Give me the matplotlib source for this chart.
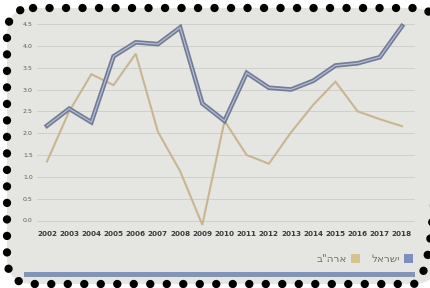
import matplotlib
matplotlib.use("Agg")
import matplotlib.pyplot as plt
import matplotlib.patheffects as pe
from matplotlib.patches import FancyBboxPatch, Rectangle

# ---- data ----
years = [2002, 2003, 2004, 2005, 2006, 2007, 2008, 2009, 2010,
         2011, 2012, 2013, 2014, 2015, 2016, 2017, 2018]
israel = [2.17, 2.56, 2.25, 3.76, 4.08, 4.04, 4.42, 2.68, 2.28,
          3.38, 3.04, 3.00, 3.20, 3.55, 3.60, 3.74, 4.45]
usa = [1.35, 2.50, 3.35, 3.10, 3.82, 2.03, 1.13, -0.10, 2.28,
       1.50, 1.30, 2.02, 2.65, 3.18, 2.50, 2.32, 2.16]
yticks = [0.0, 0.5, 1.0, 1.5, 2.0, 2.5, 3.0, 3.5, 4.0, 4.5]
ytick_labels = ["0.0", "0.5", "1.0", "1.5", "2.0", "2.5", "3.0", "3.5", "4.0", "4.5"]
series_names = ["ישראל", 'ארה"ב']   # logical order (RTL)

W, H = 430, 288
fig = plt.figure(figsize=(W / 100, H / 100), dpi=100)
fig.patch.set_facecolor("white")

# background canvas in pixel coordinates
bg = fig.add_axes([0, 0, 1, 1])
bg.set_xlim(0, W)
bg.set_ylim(H, 0)
bg.axis("off")

box = (7, 8)
bw, bh = 432, 276
paper = FancyBboxPatch(box, bw, bh, boxstyle="round,pad=0,rounding_size=26",
                       facecolor="#e5e6e1", edgecolor="none", zorder=0)
bg.add_patch(paper)
frame = FancyBboxPatch(box, bw, bh, boxstyle="round,pad=0,rounding_size=26",
                       facecolor="none", edgecolor="black", linewidth=6.0,
                       linestyle=(0, (0.01, 1.97)), capstyle="round", zorder=5)
bg.add_patch(frame)
# bottom slate stripe
bg.add_patch(Rectangle((24, 272), 391, 4.5, facecolor="#8494b4", edgecolor="none", zorder=1))

# ---- chart axes ----
def px(x0, y0, x1, y1):
    return [x0 / W, 1 - y1 / H, (x1 - x0) / W, (y1 - y0) / H]

ax = fig.add_axes(px(37, 12, 415, 224))
ax.set_facecolor("none")
per_year = (402 - 47) / 16
ax.set_xlim(2002 - (47 - 37) / per_year, 2018 + (415 - 402) / per_year)
ppu = (220.5 - 24) / 4.5
ax.set_ylim(-(224 - 220.5) / ppu, 4.5 + (24 - 12) / ppu)

for s in ax.spines.values():
    s.set_visible(False)
ax.set_yticks(yticks)
ax.set_yticklabels(ytick_labels, fontsize=4.5, color="#5a5a5a")
ax.set_xticks(years)
ax.set_xticklabels([str(y) for y in years], fontsize=5.2, fontweight="bold", color="#3a3a3a")
ax.tick_params(axis="both", length=0)
ax.tick_params(axis="y", pad=3)
ax.tick_params(axis="x", pad=5)
ax.grid(axis="y", color="#cfd0cb", linewidth=0.7)
ax.grid(axis="x", visible=False)
ax.set_axisbelow(True)

ax.plot(years, usa, color="#c8b693", linewidth=1.5, solid_joinstyle="miter",
        clip_on=False, zorder=3)
ax.plot(years, israel, color="#b6bdce", linewidth=0.9, clip_on=False, zorder=4,
        solid_joinstyle="miter",
        path_effects=[pe.Stroke(linewidth=3.3, foreground="#717b97"), pe.Normal()])

# ---- legend (RTL) ----
bg.add_patch(Rectangle((404, 254), 8.5, 8.5, facecolor="#7d8fbd", edgecolor="none", zorder=3))
bg.text(400, 258.5, series_names[0][::-1], fontsize=7.5, color="#707070",
        ha="right", va="center", zorder=3)
bg.add_patch(Rectangle((351, 254), 8.5, 8.5, facecolor="#d8c28e", edgecolor="none", zorder=3))
bg.text(347, 258.5, series_names[1][::-1], fontsize=7.5, color="#707070",
        ha="right", va="center", zorder=3)

fig.savefig("out.png", dpi=100, facecolor="white")
